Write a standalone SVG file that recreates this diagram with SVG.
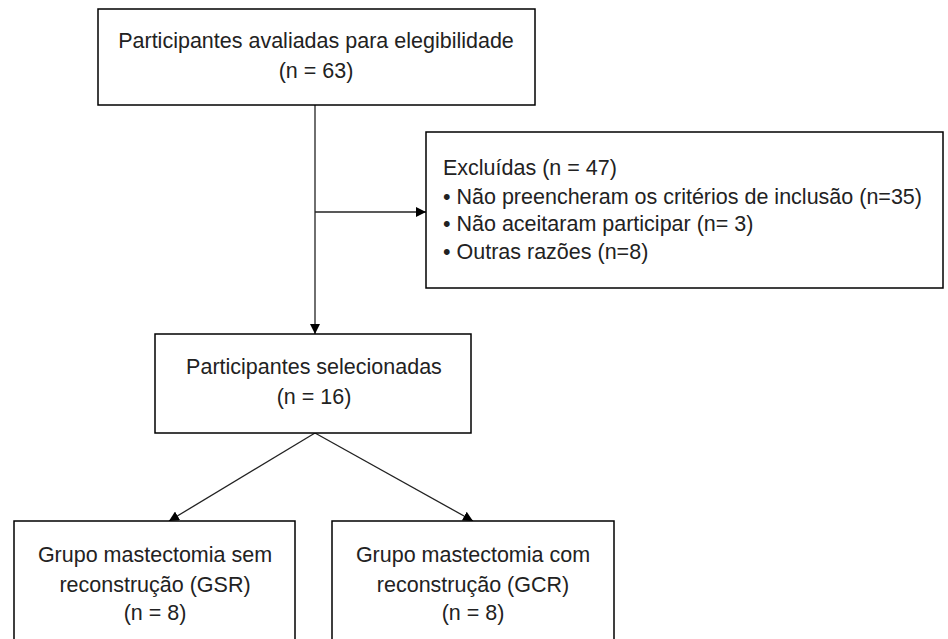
<svg xmlns="http://www.w3.org/2000/svg" width="948" height="639" viewBox="0 0 948 639">
<defs>
<style>
.box{fill:#fff;stroke:#000;stroke-width:1.5}
.t{font-family:"Liberation Sans",Arial,sans-serif;font-size:21.5px;fill:#222}
.c{text-anchor:middle}
.ln{stroke:#222;stroke-width:1.3;fill:none}
</style>
<marker id="ah" viewBox="0 0 10 10" refX="10" refY="5" markerWidth="10" markerHeight="10" markerUnits="userSpaceOnUse" orient="auto">
<path d="M0,0 L10,5 L0,10 z" fill="#000"/>
</marker>
</defs>
<rect width="948" height="639" fill="#fff"/>
<g id="connectors">
<line class="ln" x1="315" y1="105" x2="315" y2="334" marker-end="url(#ah)"/>
<line class="ln" x1="315" y1="212" x2="426" y2="212" marker-end="url(#ah)"/>
<line class="ln" x1="315" y1="433" x2="169" y2="521" marker-end="url(#ah)"/>
<line class="ln" x1="315" y1="433" x2="473" y2="521" marker-end="url(#ah)"/>
</g>
<g id="n1">
<rect class="box" x="98" y="9" width="437" height="96"/>
<text class="t c" x="316" y="48">Participantes avaliadas para elegibilidade</text>
<text class="t c" x="316" y="78">(n = 63)</text>
</g>
<g id="n2">
<rect class="box" x="426" y="132" width="517" height="156"/>
<text class="t" x="443" y="175">Excluídas (n = 47)</text>
<text class="t" x="443" y="204">• Não preencheram os critérios de inclusão (n=35)</text>
<text class="t" x="443" y="231">• Não aceitaram participar (n= 3)</text>
<text class="t" x="443" y="259">• Outras razões (n=8)</text>
</g>
<g id="n3">
<rect class="box" x="155" y="334" width="316" height="99"/>
<text class="t c" x="314" y="374">Participantes selecionadas</text>
<text class="t c" x="314" y="404">(n = 16)</text>
</g>
<g id="n4">
<rect class="box" x="14" y="521" width="281" height="125"/>
<text class="t c" x="155" y="562">Grupo mastectomia sem</text>
<text class="t c" x="155" y="592">reconstrução (GSR)</text>
<text class="t c" x="155" y="620">(n = 8)</text>
</g>
<g id="n5">
<rect class="box" x="332" y="521" width="282" height="125"/>
<text class="t c" x="473" y="562">Grupo mastectomia com</text>
<text class="t c" x="473" y="592">reconstrução (GCR)</text>
<text class="t c" x="473" y="620">(n = 8)</text>
</g>
</svg>
